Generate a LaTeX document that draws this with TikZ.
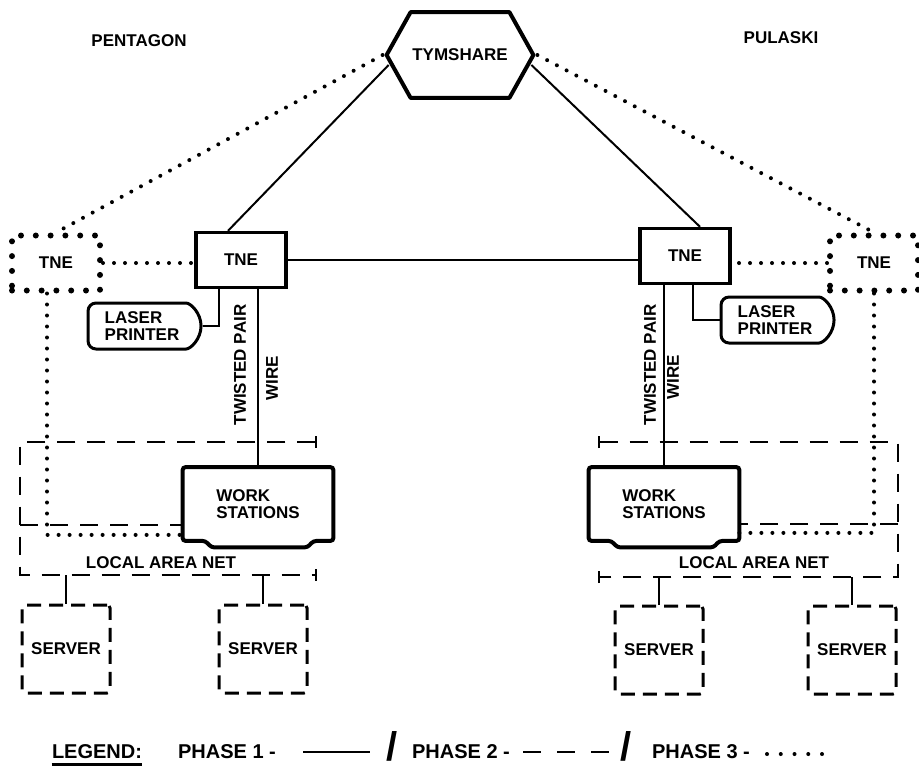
\documentclass[tikz,border=0pt]{standalone}
\usepackage{fontspec}
\setmainfont{Liberation Sans}
\usetikzlibrary{arrows.meta, shapes.misc, positioning, calc}
\tikzset{
	txt/.style={font=\bfseries\fontsize{8.5}{8.5}\selectfont, inner sep=0pt, align=left},
	legendtxt/.style={font=\bfseries\fontsize{10}{10}\selectfont, inner sep=0pt},
	slash/.style={font=\bfseries\fontsize{20}{20}\selectfont, inner sep=0pt},
	tne/.style={txt, draw, line width=1.7pt, minimum width=45pt, minimum height=27.5pt},
	tnefuture/.style={txt, draw, line width=3pt, line cap=round, dash pattern=on 0pt off 7.4pt, minimum width=44pt, minimum height=27.5pt},
	printer/.style={txt, draw, line width=1.5pt, rounded rectangle, rounded rectangle west arc=none, rounded corners=4pt, minimum width=56.5pt, minimum height=23pt},
	station/.style={txt, minimum width=75pt, minimum height=36.5pt},
	server/.style={txt, draw, line width=1.5pt, dash pattern=on 7pt off 4pt, rounded corners=1.5pt, minimum size=44pt},
	phase1/.style={draw, line width=1pt},
	phase2/.style={draw, line width=1.1pt, dash pattern=on 9pt off 6pt},
	phase3/.style={draw, line width=2pt, line cap=round, dash pattern=on 0pt off 5.5pt}
}

\begin{document}
\begin{tikzpicture}[x=0.5pt, y=-0.5pt]
	\useasboundingbox (0,0) rectangle (919,768);
	
	% Site names
	\node[txt] (pentagon) at (139,41) {PENTAGON};
	\node[txt] (pulaski) at (781,38) {PULASKI};
	
	% Central host (hexagon drawn round the node)
	\node[txt, minimum width=49pt, minimum height=42.5pt] (tym) at (460,55) {TYMSHARE};
	\draw[line width=2pt, line join=round] (tym.north west) -- (tym.north east) -- ([xshift=12pt]tym.east)
		-- (tym.south east) -- (tym.south west) -- ([xshift=-12pt]tym.west) -- cycle;
	
	% Network nodes
	\node[tne] (tneL) at (241,260) {TNE};
	\node[tne] (tneR) at (685,256) {TNE};
	\node[tnefuture] (dtL) at (56,263) {TNE};
	\node[tnefuture] (dtR) at (874,263) {TNE};
	
	% Printers
	\node[printer] (prL) at (142,326) {LASER\\PRINTER};
	\node[printer] (prR) at (775,320) {LASER\\PRINTER};
	
	% Work stations (outline with a base lip)
	\node[station] (wsL) at (258,504) {WORK\\STATIONS};
	\node[station] (wsR) at (664,504) {WORK\\STATIONS};
	\foreach \ws in {wsL, wsR} {
		\draw[line width=2pt, rounded corners=1.5pt] (\ws.south west) -- (\ws.north west) -- (\ws.north east) -- (\ws.south east)
			-- ++(-20,0) -- ++(-6,6.5) -- ++(-96,0) -- ++(-6,-6.5) -- cycle;
	}
	
	% Servers
	\node[server] (svL1) at (66,649) {SERVER};
	\node[server] (svL2) at (263,649) {SERVER};
	\node[server] (svR1) at (659,650) {SERVER};
	\node[server] (svR2) at (852,650) {SERVER};
	
	% Phase 1 links
	\draw[phase1] ([xshift=-11pt,yshift=-5pt]tym.west) -- ([xshift=-6.5pt]tneL.north);
	\draw[phase1] ([xshift=11pt,yshift=-5pt]tym.east) -- ([xshift=7.5pt]tneR.north);
	\draw[phase1] (tneL.east) -- (tneL.east -| tneR.west);
	\draw[phase1] (prL.east) -| ([xshift=-11pt]tneL.south);
	\draw[phase1] (prR.west) -| ([xshift=4pt]tneR.south);
	\draw[phase1] (wsL.north) -- (wsL.north |- tneL.south);
	\draw[phase1] (wsR.north) -- (wsR.north |- tneR.south);
	\node[txt, rotate=90] (tpL) at (240,365) {TWISTED PAIR};
	\node[txt, rotate=90] (wireL) at (272,378) {WIRE};
	\node[txt, rotate=90] (tpR) at (650,365) {TWISTED PAIR};
	\node[txt, rotate=90] (wireR) at (673,377) {WIRE};
	
	% Phase 2 local area nets
	\coordinate (lanLtop) at (317,442);
	\coordinate (lanLmid) at (20,525);
	\coordinate (lanLbot) at (317,575);
	\coordinate (lanRtop) at (598,442);
	\coordinate (lanRmid) at (898,524);
	\coordinate (lanRbot) at (598,577);
	\draw[phase2, {Bar[width=6pt]}-{Bar[width=6pt]}] (lanLtop) -- (20,442) -- (20,575) -- (lanLbot);
	\draw[phase2] (lanLmid) -- (lanLmid -| wsL.west);
	\draw[phase2, {Bar[width=6pt]}-{Bar[width=6pt]}] (lanRtop) -- (898,442) -- (898,577) -- (lanRbot);
	\draw[phase2] (lanRmid) -- (lanRmid -| wsR.east);
	\node[txt] (lanLtxt) at (161,563) {LOCAL AREA NET};
	\node[txt] (lanRtxt) at (754,563) {LOCAL AREA NET};
	\foreach \sv/\lan in {svL1/lanLbot, svL2/lanLbot, svR1/lanRbot, svR2/lanRbot} {
		\draw[phase1] (\sv.north) -- (\sv.north |- \lan);
	}
	
	% Phase 3 links
	\draw[phase3] ([xshift=-14pt]tym.west) -- (dtL.north);
	\draw[phase3] ([xshift=14pt]tym.east) -- (dtR.north);
	\draw[phase3] (dtL.east) -- (dtL.east -| tneL.west);
	\draw[phase3] (dtR.west) -- (dtR.west -| tneR.east);
	\draw[phase3] ([xshift=-4.5pt]dtL.south) |- ([yshift=3pt]wsL.south west);
	\draw[phase3] (dtR.south) |- ([yshift=4pt]wsR.south east);
	
	% Legend
	\node[legendtxt] (legend) at (97,752) {LEGEND:};
	\draw[line width=1.2pt] ([yshift=-2.5pt]legend.south west) -- ([yshift=-2.5pt]legend.south east);
	\node[legendtxt] (ph1) at (227,752) {PHASE 1 -};
	\coordinate (ph1a) at (303,752);
	\coordinate (ph1b) at (370,752);
	\draw[phase1] (ph1a) -- (ph1b);
	\node[slash] (sl1) at (392,746) {/};
	\node[legendtxt] (ph2) at (461,752) {PHASE 2 -};
	\coordinate (ph2a) at (523,752);
	\coordinate (ph2b) at (610,752);
	\draw[phase2, line width=1.3pt, dash pattern=on 9pt off 8pt] (ph2a) -- (ph2b);
	\node[slash] (sl2) at (626,746) {/};
	\node[legendtxt] (ph3) at (701,752) {PHASE 3 -};
	\coordinate (ph3a) at (767,754);
	\coordinate (ph3b) at (822,754);
	\draw[phase3, dash pattern=on 0pt off 6.875pt] (ph3a) -- (ph3b);
	
\end{tikzpicture}
\end{document}
